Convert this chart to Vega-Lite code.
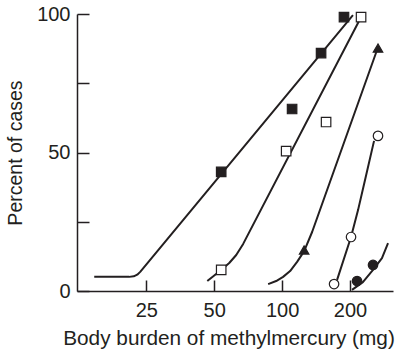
{
  "$schema": "https://vega.github.io/schema/vega-lite/v6.json",
  "width": 316,
  "height": 277,
  "autosize": {"type": "none"},
  "padding": {"left": 77, "top": 14, "right": 6, "bottom": 63},
  "background": "white",
  "config": {
    "view": {"stroke": null},
    "font": "Liberation Sans",
    "axis": {
      "grid": false,
      "domainColor": "#231f20",
      "domainWidth": 1.5,
      "tickColor": "#231f20",
      "tickWidth": 1.5,
      "labelColor": "#231f20",
      "titleColor": "#231f20",
      "labelFont": "Liberation Sans",
      "titleFont": "Liberation Sans",
      "labelFontSize": 20,
      "titleFontWeight": "normal"
    }
  },
  "datasets": {
    "curves": [
      {"series": "s1", "x": 14.7, "y": 5.1},
      {"series": "s1", "x": 21.0, "y": 5.1},
      {"series": "s1", "x": 22.0, "y": 5.3},
      {"series": "s1", "x": 22.8, "y": 5.9},
      {"series": "s1", "x": 23.5, "y": 6.9},
      {"series": "s1", "x": 206, "y": 99.6},
      {"series": "s2", "x": 46.6, "y": 3.6},
      {"series": "s2", "x": 53.7, "y": 7.6},
      {"series": "s2", "x": 58.3, "y": 10.1},
      {"series": "s2", "x": 62.6, "y": 13.0},
      {"series": "s2", "x": 67.2, "y": 17.0},
      {"series": "s2", "x": 219.2, "y": 97.5},
      {"series": "s3", "x": 86.7, "y": 2.5},
      {"series": "s3", "x": 94.1, "y": 3.6},
      {"series": "s3", "x": 101.0, "y": 5.1},
      {"series": "s3", "x": 108.5, "y": 7.2},
      {"series": "s3", "x": 116.5, "y": 10.5},
      {"series": "s3", "x": 125.2, "y": 14.4},
      {"series": "s3", "x": 135.8, "y": 21.3},
      {"series": "s3", "x": 263.4, "y": 87.0},
      {"series": "s4", "x": 175.2, "y": 4.0},
      {"series": "s4", "x": 202, "y": 19.5},
      {"series": "s4", "x": 217, "y": 29.2},
      {"series": "s4", "x": 233, "y": 40.1},
      {"series": "s4", "x": 255.5, "y": 54.2},
      {"series": "s5", "x": 204, "y": 0.4},
      {"series": "s5", "x": 228, "y": 3.2},
      {"series": "s5", "x": 252.8, "y": 7.6},
      {"series": "s5", "x": 277, "y": 11.9},
      {"series": "s5", "x": 294.7, "y": 17.3}
    ],
    "observed": [
      {"series": "s1", "x": 53.7, "y": 43.0},
      {"series": "s1", "x": 110.7, "y": 65.7},
      {"series": "s1", "x": 148.8, "y": 85.9},
      {"series": "s1", "x": 188, "y": 98.9},
      {"series": "s2", "x": 53.7, "y": 7.6},
      {"series": "s2", "x": 104.2, "y": 50.5},
      {"series": "s2", "x": 156.6, "y": 61.0},
      {"series": "s2", "x": 223.8, "y": 98.9},
      {"series": "s3", "x": 125.2, "y": 14.8},
      {"series": "s3", "x": 266, "y": 87.7},
      {"series": "s4", "x": 169.9, "y": 2.5},
      {"series": "s4", "x": 202, "y": 19.5},
      {"series": "s4", "x": 266, "y": 56.0},
      {"series": "s5", "x": 214.8, "y": 3.6},
      {"series": "s5", "x": 252.8, "y": 9.4}
    ]
  },
  "layer": [
    {
      "data": {"name": "curves"},
      "mark": {"type": "line", "interpolate": "linear", "color": "#231f20", "strokeWidth": 2, "strokeJoin": "round"},
      "encoding": {
        "x": {
          "field": "x", "type": "quantitative",
          "scale": {"type": "log", "domain": [12.33, 310], "nice": false},
          "axis": {
            "values": [25, 50, 100, 200], "format": "d",
            "tickSize": -11, "labelPadding": 20,
            "title": "Body burden of methylmercury (mg)", "titleFontSize": 20.8, "titlePadding": 8,
            "titleX": 151.5, "titleAlign": "center"
          }
        },
        "y": {
          "field": "y", "type": "quantitative",
          "scale": {"domain": [0, 100], "nice": false},
          "axis": {
            "values": [0, 25, 50, 75, 100],
            "labelExpr": "datum.value % 50 == 0 ? datum.label : ''",
            "tickSize": -12, "labelPadding": 19,
            "title": "Percent of cases", "titleFontSize": 19.5, "titlePadding": 11
          }
        },
        "detail": {"field": "series"}
      }
    },
    {
      "data": {"name": "observed"},
      "mark": {"type": "point", "filled": true, "stroke": "#231f20", "strokeWidth": 1.2, "opacity": 1},
      "encoding": {
        "x": {"field": "x", "type": "quantitative"},
        "y": {"field": "y", "type": "quantitative"},
        "shape": {
          "field": "series", "type": "nominal",
          "scale": {"domain": ["s1", "s2", "s3", "s4", "s5"], "range": ["square", "square", "triangle-up", "circle", "circle"]},
          "legend": null
        },
        "fill": {
          "field": "series", "type": "nominal",
          "scale": {"domain": ["s1", "s2", "s3", "s4", "s5"], "range": ["#231f20", "white", "#231f20", "white", "#231f20"]},
          "legend": null
        },
        "size": {"value": 90}
      }
    }
  ]
}
